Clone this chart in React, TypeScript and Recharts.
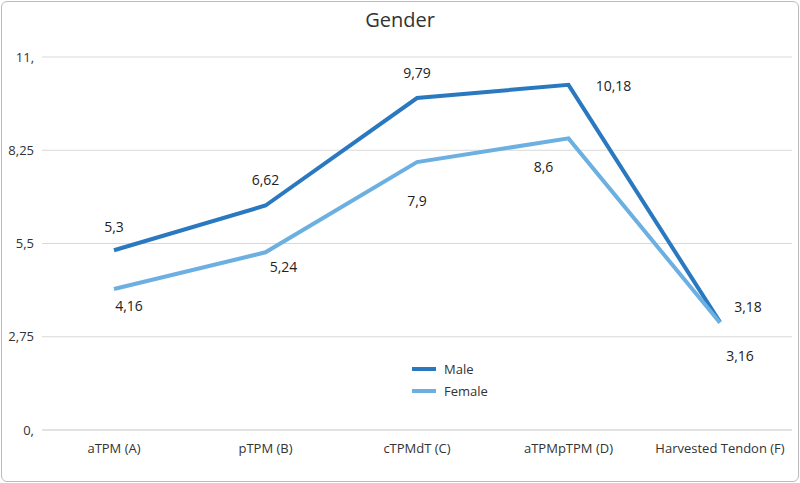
import { LineChart, Line, XAxis, YAxis, CartesianGrid } from 'recharts'

const categories = ['aTPM (A)', 'pTPM (B)', 'cTPMdT (C)', 'aTPMpTPM (D)', 'Harvested Tendon (F)']
const male = [5.3, 6.62, 9.79, 10.18, 3.18]
const female = [4.16, 5.24, 7.9, 8.6, 3.16]
const yTicks = [0, 2.75, 5.5, 8.25, 11]
const seriesNames = ['Male', 'Female']
const seriesColors = ['#2a78c0', '#6cb0e2']
const maleOffsets = [[0, -22], [0, -24], [0, -24], [45, 2], [28, -14]]
const femaleOffsets = [[15, 18], [18, 16], [0, 40], [-25, 30], [20, 34]]

const data = categories.map((c, i) => ({ name: c, male: male[i], female: female[i] }))

const fmt = (v: number) => (Number.isInteger(v) ? v + ',' : String(v).replace('.', ','))

const makeLabel = (offs: number[][]) => (p: any) => {
  const [dx, dy] = offs[p.index]
  return (
    <text x={p.x + dx} y={p.y + dy} textAnchor="middle" dominantBaseline="middle" fontSize={14} fill="#222">
      {fmt(p.value)}
    </text>
  )
}

export default function App() {
  return (
    <div style={{ position: 'absolute', left: 0, top: 0, width: 800, height: 483, fontFamily: '"Open Sans", sans-serif', background: '#fff' }}>
      <div style={{ position: 'absolute', left: 1, top: 1, width: 796, height: 479, border: '1px solid #bbb', borderRadius: 6 }} />
      <div style={{ position: 'absolute', left: 0, width: 800, top: 6, textAlign: 'center', fontSize: 20, color: '#333' }}>Gender</div>
      <LineChart width={800} height={483} data={data} margin={{ top: 57, right: 8, bottom: 23, left: 0 }}>
        <CartesianGrid vertical={false} stroke="#d9d9d9" />
        <XAxis dataKey="name" height={30} padding={{ left: 72, right: 72 }} tickLine={false} axisLine={{ stroke: '#d9d9d9' }} tick={{ fontSize: 13, fill: '#333' }} tickMargin={8} interval={0} />
        <YAxis width={42} domain={[0, 11]} ticks={yTicks} tickFormatter={fmt} axisLine={false} tickLine={false} tick={{ fontSize: 13, fill: '#333' }} />
        <Line dataKey="male" name="Male" stroke={seriesColors[0]} strokeWidth={4} dot={false} isAnimationActive={false} label={makeLabel(maleOffsets)} />
        <Line dataKey="female" name="Female" stroke={seriesColors[1]} strokeWidth={4} dot={false} isAnimationActive={false} label={makeLabel(femaleOffsets)} />
      </LineChart>
      <div style={{ position: 'absolute', left: 412, top: 358, fontSize: 13, color: '#333' }}>
        {seriesNames.map((n, i) => (
          <div key={n} style={{ display: 'flex', alignItems: 'center', height: 22 }}>
            <span style={{ display: 'inline-block', width: 24, height: 4, background: seriesColors[i], marginRight: 8 }} />
            {n}
          </div>
        ))}
      </div>
    </div>
  )
}
